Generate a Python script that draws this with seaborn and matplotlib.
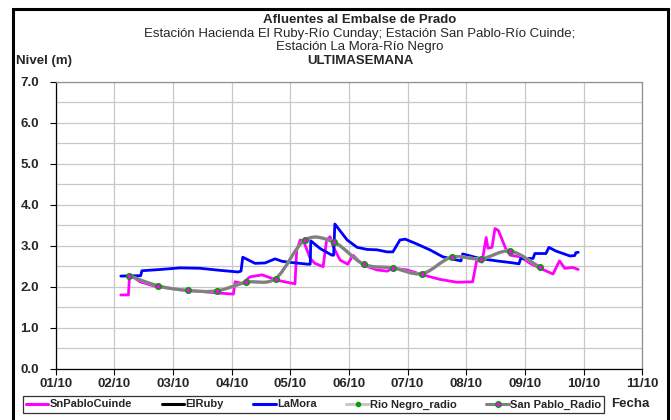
import numpy as np
import pandas as pd
import matplotlib
matplotlib.use("Agg")
import matplotlib.pyplot as plt
import seaborn as sns
from matplotlib.path import Path
from matplotlib.patches import PathPatch, Rectangle
from matplotlib.lines import Line2D

# day of October (fractional) and level in m
lamora_dia = [2.11, 2.45, 2.47, 2.78, 3.12, 3.46, 3.80, 4.11, 4.16, 4.19, 4.40, 4.57,
              4.74, 4.86, 5.03, 5.30, 5.34, 5.35, 5.51, 5.71, 5.74, 5.76, 5.97, 6.14,
              6.31, 6.48, 6.65, 6.75, 6.87, 6.96, 7.13, 7.38, 7.60, 7.81, 7.91, 7.94,
              8.23, 8.52, 8.75, 8.90, 8.93, 9.14, 9.17, 9.36, 9.41, 9.53, 9.65, 9.77,
              9.85, 9.87, 9.91]
lamora_nivel = [2.26, 2.27, 2.39, 2.42, 2.46, 2.45, 2.40, 2.36, 2.38, 2.72, 2.57, 2.58,
                2.68, 2.62, 2.59, 2.55, 2.55, 3.12, 2.93, 2.77, 2.77, 3.53, 3.14, 2.96,
                2.91, 2.90, 2.85, 2.85, 3.14, 3.16, 3.06, 2.90, 2.73, 2.66, 2.63, 2.80,
                2.69, 2.63, 2.59, 2.56, 2.69, 2.69, 2.81, 2.81, 2.96, 2.87, 2.81, 2.75,
                2.76, 2.83, 2.84]

cuinde_dia = [2.11, 2.24, 2.26, 2.44, 2.72, 3.18, 3.75, 4.03, 4.06, 4.19, 4.31, 4.52,
              4.77, 5.08, 5.11, 5.17, 5.23, 5.34, 5.42, 5.56, 5.62, 5.68, 5.73, 5.85,
              5.98, 6.07, 6.24, 6.48, 6.65, 6.75, 6.99, 7.26, 7.55, 7.84, 8.11, 8.18,
              8.27, 8.34, 8.37, 8.44, 8.49, 8.55, 8.67, 8.75, 8.92, 9.09, 9.26, 9.48,
              9.59, 9.68, 9.82, 9.91]
cuinde_nivel = [1.80, 1.80, 2.29, 2.12, 2.00, 1.92, 1.85, 1.82, 2.12, 2.08, 2.24, 2.29,
                2.16, 2.07, 2.90, 3.14, 3.10, 2.69, 2.57, 2.49, 3.14, 3.22, 2.98, 2.65,
                2.55, 2.77, 2.53, 2.41, 2.38, 2.45, 2.41, 2.29, 2.18, 2.11, 2.12, 2.65,
                2.60, 3.20, 2.94, 2.96, 3.42, 3.37, 2.94, 2.77, 2.73, 2.57, 2.45, 2.31,
                2.63, 2.45, 2.47, 2.42]

radio_dia = [2.25, 2.75, 3.25, 3.75, 4.25, 4.75, 5.25, 5.75, 6.25, 6.75, 7.25, 7.75,
             8.25, 8.75, 9.25]
sanpablo_radio = [2.27, 2.02, 1.91, 1.90, 2.11, 2.20, 3.14, 3.08, 2.55, 2.46, 2.32,
                  2.72, 2.68, 2.87, 2.48]
rionegro_radio = [2.27, 2.02, 1.91, 1.90, 2.11, 2.20, 3.14, 3.08, 2.55, 2.46, 2.32,
                  2.72, 2.68, 2.87, 2.48]

fecha_ticks = list(range(1, 12))
fecha_labels = ["%02d/10" % d for d in fecha_ticks]

sns.set_style("white")
plt.rcParams['font.family'] = ['Liberation Sans', 'DejaVu Sans']


def smooth_path(xs, ys):
    # excel-style smoothed line: cubic bezier through every point
    n = len(xs)
    verts = [(xs[0], ys[0])]
    codes = [Path.MOVETO]
    for i in range(n - 1):
        a = max(i - 1, 0)
        b = min(i + 2, n - 1)
        c1 = (xs[i] + (xs[i + 1] - xs[a]) / 6, ys[i] + (ys[i + 1] - ys[a]) / 6)
        c2 = (xs[i + 1] - (xs[b] - xs[i]) / 6, ys[i + 1] - (ys[b] - ys[i]) / 6)
        verts += [c1, c2, (xs[i + 1], ys[i + 1])]
        codes += [Path.CURVE4] * 3
    return Path(verts, codes)


fig = plt.figure(figsize=(6.71, 4.2), dpi=100)
ax = fig.add_axes([0.083, 0.122, 0.874, 0.6835])

lamora = pd.DataFrame({"dia": lamora_dia, "nivel": lamora_nivel})
cuinde = pd.DataFrame({"dia": cuinde_dia, "nivel": cuinde_nivel})
radio = pd.DataFrame({"dia": radio_dia, "rn": rionegro_radio, "sp": sanpablo_radio})

sns.lineplot(data=cuinde, x="dia", y="nivel", ax=ax, color="#FF00FF", lw=2.0,
             estimator=None, sort=False, zorder=3)
sns.lineplot(data=lamora, x="dia", y="nivel", ax=ax, color="#0000FF", lw=2.0,
             estimator=None, sort=False, zorder=4)

ax.add_patch(PathPatch(smooth_path(radio_dia, rionegro_radio), fill=False,
                       edgecolor="#C0C0C0", lw=2.4, zorder=5))
ax.add_patch(PathPatch(smooth_path(radio_dia, sanpablo_radio), fill=False,
                       edgecolor="#808080", lw=2.2, zorder=6))
sns.scatterplot(data=radio, x="dia", y="rn", ax=ax, color="#00A000", s=26,
                linewidth=0, zorder=7)
sns.scatterplot(data=radio, x="dia", y="sp", ax=ax, color="#FF00FF", s=8,
                linewidth=0, zorder=8)

ax.set_xlim(1, 11)
ax.set_ylim(0, 7)
ax.set_xticks(fecha_ticks)
ax.set_xticklabels(fecha_labels, fontsize=9.5, fontweight="bold")
ax.set_yticks(np.arange(0, 7.5, 1.0))
ax.set_yticklabels(["%.1f" % v for v in np.arange(0, 7.5, 1.0)], fontsize=9.5,
                   fontweight="bold")
ax.set_yticks(np.arange(0, 7.5, 0.5), minor=True)
ax.tick_params(axis="both", which="major", direction="out", length=4, width=0.8,
               color="black", bottom=True, left=True)
ax.tick_params(axis="x", which="major", pad=3)
ax.tick_params(axis="y", which="major", pad=8)
ax.tick_params(axis="y", which="minor", length=0)
ax.grid(True, which="both", color="#C8C8C8", lw=0.9)
ax.set_axisbelow(True)
ax.set_xlabel("")
ax.set_ylabel("")
for s in ["left", "bottom"]:
    ax.spines[s].set_color("black")
    ax.spines[s].set_linewidth(0.9)
for s in ["top", "right"]:
    ax.spines[s].set_color("#909090")
    ax.spines[s].set_linewidth(0.9)

# titles
cx = 360 / 671
fig.text(cx, 1 - 20 / 420, "Afluentes al Embalse de Prado", ha="center", va="center",
         fontsize=9.5, fontweight="bold")
fig.text(cx, 1 - 33.5 / 420, "Estación Hacienda El Ruby-Río Cunday; Estación San Pablo-Río Cuinde;",
         ha="center", va="center", fontsize=9.5)
fig.text(cx, 1 - 47 / 420, "Estación La Mora-Río Negro", ha="center", va="center", fontsize=9.5)
fig.text(cx, 1 - 61 / 420, "ULTIMASEMANA", ha="center", va="center", fontsize=9.5,
         fontweight="bold")
fig.text(44 / 671, 1 - 61 / 420, "Nivel (m)", ha="center", va="center", fontsize=9.5,
         fontweight="bold")
fig.text(630 / 671, 1 - 404 / 420, "Fecha", ha="center", va="center", fontsize=9.5,
         fontweight="bold")

handles = [
    Line2D([], [], color="#FF00FF", lw=2.2),
    Line2D([], [], color="black", lw=2.2),
    Line2D([], [], color="#0000FF", lw=2.2),
    Line2D([], [], color="#C8C8C8", lw=2.2, marker="o", ms=3, mfc="#00A000", mec="#00A000"),
    Line2D([], [], color="#808080", lw=2.2, marker="o", ms=4, mfc="#FF00FF", mec="#00A000"),
]
labels = ["SnPabloCuinde", "ElRuby", "LaMora", "Rio Negro_radio", "San Pablo_Radio"]
leg = fig.legend(handles, labels, loc="center", bbox_to_anchor=(313.5 / 671, 1 - 404.5 / 420),
                 ncol=5, frameon=True, fancybox=False, handlelength=2.0, handletextpad=0.1,
                 columnspacing=2.7, borderpad=0.3, borderaxespad=0,
                 prop={"size": 8, "weight": "bold"})
leg.get_frame().set_edgecolor("black")
leg.get_frame().set_linewidth(0.9)

# outer chart frame
fig.patches.append(Rectangle((13 / 671, -0.05), 655 / 671, 1 - 9 / 420 + 0.05,
                             transform=fig.transFigure, fill=False, edgecolor="black",
                             lw=2.2, zorder=10))

fig.savefig("out.png", dpi=100)
